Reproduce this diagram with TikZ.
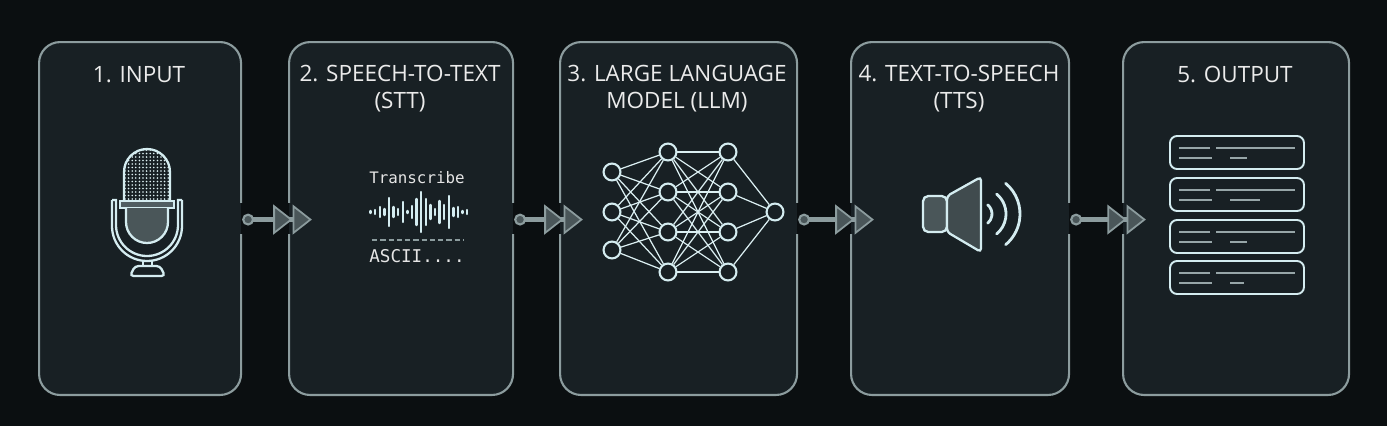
\documentclass[tikz,border=0pt]{standalone}
\usepackage{fontspec}
\setmainfont{Open Sans}
\setmonofont{DejaVu Sans Mono}
\usetikzlibrary{arrows.meta,positioning}
\definecolor{bgcol}{HTML}{0B0F11}
\definecolor{panelcol}{HTML}{182024}
\definecolor{edgecol}{HTML}{8C9C9E}
\definecolor{iconcol}{HTML}{D4ECF0}
\definecolor{arrowfill}{HTML}{4A5659}
\tikzset{
  panel/.style={draw=edgecol, fill=panelcol, line width=1.2pt, rounded corners=12pt, anchor=north west},
  title/.style={text=white!92!black, font=\fontsize{12.8}{15.5}\selectfont, align=center},
  icon/.style={draw=iconcol, line width=1.3pt},
  neuron/.style={circle, draw=iconcol, fill=panelcol, line width=1.2pt, minimum size=9.6pt, inner sep=0pt},
  flow/.style={draw=edgecol, line width=3pt, {Circle[open, fill=arrowfill, length=6.8pt, width=6.8pt, line width=1.2pt]}-{Triangle[fill=arrowfill, length=11pt, width=17pt, line width=1pt] Triangle[fill=arrowfill, length=11pt, width=17pt, line width=1pt]}},
}
\begin{document}
\begin{tikzpicture}[x=0.02cm, y=-0.02cm]
\fill[bgcol] (0,0) rectangle (1387,426);
\useasboundingbox (0,0) rectangle (1387,426);
% panels
\foreach \n/\xa/\xb in {1/38/240, 2/288/512, 3/559/796, 4/850/1068, 5/1122/1348}
  \node[panel, minimum width={(\xb-\xa)*0.02cm}, minimum height=7.06cm] (p\n) at (\xa,41) {};
\node[title] at (139,75) {1. INPUT};
\node[title] at (400,89) {2. SPEECH-TO-TEXT\\(STT)};
\node[title] at (677,89) {3. LARGE LANGUAGE\\MODEL (LLM)};
\node[title] at (959,89) {4. TEXT-TO-SPEECH\\(TTS)};
\node[title] at (1235,75) {5. OUTPUT};
% connectors
\foreach \a/\b in {1/2, 2/3, 3/4, 4/5} {
  \fill[bgcol] ([xshift=-1pt,yshift=-9pt]p\a.east) rectangle ([xshift=1pt,yshift=9pt]p\a.east);
  \fill[bgcol] ([xshift=-1pt,yshift=-9pt]p\b.west) rectangle ([xshift=1pt,yshift=9pt]p\b.west);
  \fill[panelcol] ([xshift=-6pt,yshift=-9pt]p\a.east) rectangle ([xshift=-0.4pt,yshift=9pt]p\a.east);
  \fill[panelcol] ([xshift=0.4pt,yshift=-9pt]p\b.west) rectangle ([xshift=6pt,yshift=9pt]p\b.west);
  \draw[flow] ([xshift=0pt,yshift=-0.6pt]p\a.east) -- ([xshift=13.6pt,yshift=-0.6pt]p\b.west);
}
% microphone
\begin{scope}
  \clip (124,205) -- (124,172) arc[start angle=180, end angle=360, radius=23] -- (170,205) -- cycle;
  \foreach \i in {0,...,12} \foreach \j in {0,...,16}
    \fill[iconcol!80] (125+\i*3.6, 150+\j*3.5) circle (0.9);
\end{scope}
\draw[icon] (124,205) -- (124,172) arc[start angle=180, end angle=360, radius=23] -- (170,205);
\draw[icon, fill=panelcol!70!iconcol] (120,201) rectangle (174,208);
\draw[icon, fill=arrowfill] (126,208) -- (126,222) arc[start angle=180, end angle=0, radius=21] -- (168,208);
\draw[icon] (112,200) -- (116,200) -- (116,225) arc[start angle=180, end angle=0, radius=31] -- (178,200) -- (182,200);
\draw[icon] (112,200) -- (112,226) arc[start angle=180, end angle=0, radius=35] -- (182,200);
\draw[icon] (143,260) -- (143,266) (152,260) -- (152,266);
\draw[icon, rounded corners=2pt] (130,276) -- (135,266) -- (160,266) -- (165,276) -- cycle;
% speech to text
\node[font=\ttfamily\fontsize{9}{11}\selectfont, text=white!90!black] (tr) at (417,178) {Transcribe};
\foreach \h [count=\k] in {1,2,5,3,14,5,3,10,1,6,13,20,13,7,3,11,7,16,4,5,1,2}
  \draw[iconcol, line width=1.4pt, line cap=round] (366+\k*4.6,212-\h) -- (366+\k*4.6,212+\h);
\draw[edgecol, line width=0.8pt, dash pattern=on 3pt off 1.7pt] (372,240) -- (463,240);
\node[font=\ttfamily\fontsize{10}{12}\selectfont, text=white!90!black] (asc) at (417,256) {ASCII....};
% neural network
\foreach \y [count=\i] in {172,212,250} \node[neuron] (a\i) at (612,\y) {};
\foreach \y [count=\i] in {152,192,232,272} \node[neuron] (b\i) at (668,\y) {};
\foreach \y [count=\i] in {152,192,232,272} \node[neuron] (c\i) at (728,\y) {};
\node[neuron] (d1) at (775,212) {};
\begin{scope}[iconcol!85, line width=0.7pt]
\foreach \i in {1,2,3} \foreach \j in {1,...,4} \draw (a\i) -- (b\j);
\foreach \i in {1,...,4} \foreach \j in {1,...,4} \draw (b\i) -- (c\j);
\foreach \i in {1,...,4} \draw (c\i) -- (d1);
\end{scope}
% speaker
\draw[icon, fill=arrowfill, rounded corners=3pt] (923,196) rectangle (947,232);
\draw[icon, fill=arrowfill!80!panelcol, rounded corners=2pt] (947,196) -- (981,177) -- (981,252) -- (947,232) -- cycle;
\foreach \r in {12,26,40}
  \draw[iconcol, line width=1.6pt, line cap=round] (980,214) ++(-50:\r) arc[start angle=-50, end angle=50, radius=\r];
% output document
\foreach \y/\l/\m in {136/33/17, 178/33/30, 220/33/17, 261/33/14} {
  \draw[icon, line width=1.1pt, rounded corners=4pt] (1170,\y) rectangle (1304,\y+33);
  \draw[edgecol!90!white, line width=1.1pt] (1179,\y+12) -- (1210,\y+12) (1216,\y+12) -- (1295,\y+12);
  \draw[edgecol!90!white, line width=1.1pt] (1179,\y+22) -- (1179+\l,\y+22) (1230,\y+22) -- (1230+\m,\y+22);
}
\end{tikzpicture}
\end{document}
